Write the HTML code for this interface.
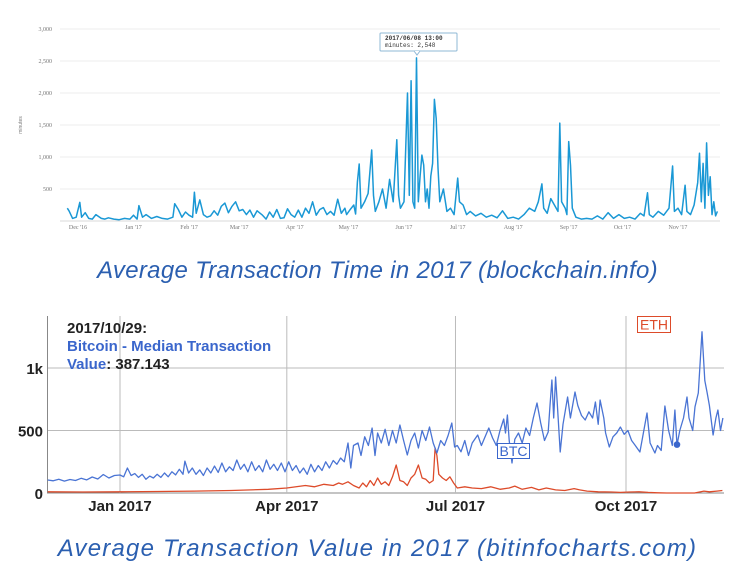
<!DOCTYPE html>
<html><head><meta charset="utf-8">
<style>
html,body{margin:0;padding:0;background:#fff;}
body{width:755px;height:578px;overflow:hidden;position:relative;font-family:"Liberation Sans",sans-serif;}
.cap{position:absolute;left:0;width:755px;text-align:center;font-style:italic;font-size:24px;color:#2b5fb0;letter-spacing:0.3px;}
</style></head>
<body>
<svg id="topchart" width="755" height="245" style="position:absolute;left:0;top:0"></svg>
<div class="cap" style="top:257px">Average Transaction Time in 2017 (blockchain.info)</div>
<svg id="botchart" width="755" height="225" style="position:absolute;left:0;top:300px"></svg>
<div class="cap" style="top:535px;letter-spacing:1.2px">Average Transaction Value in 2017 (bitinfocharts.com)</div>
<script>
// ---- Top chart data (days since 2016-12-01, minutes) ----
const timeDays = [-6,-5,-3,-1,1,2,4,6,8,10,13,15,17,20,23,26,29,31,33,34,36,38,41,44,47,50,53,54,56,58,60,62,64,65,66,68,70,72,74,76,78,80,82,84,86,88,90,92,94,96,98,100,103,105,107,109,111,113,115,117,119,121,123,125,127,129,131,133,135,137,139,141,143,145,147,149,150,152,154,155,156,157,158,160,162,164,165,166,168,170,172,174,176,178,179,180,182,184,185,186,187,188,189,190,191,192,193,194,195,196,197,198,199,200,201,202,204,206,208,210,212,213,215,217,219,222,225,228,231,234,237,240,243,246,249,252,255,257,259,260,262,264,266,268,269,270,272,273,274,275,276,278,281,284,287,290,293,296,299,302,305,308,311,314,316,318,319,321,324,327,330,332,333,335,337,339,340,342,344,346,347,348,349,350,351,352,353,354,355,356,357];
const timeMinutes = [200,160,40,60,290,60,130,40,30,100,40,30,50,30,20,40,30,90,30,240,60,100,40,70,40,30,60,270,180,60,140,90,60,450,120,330,100,60,80,160,90,230,280,130,230,300,160,180,100,170,60,160,90,30,140,60,180,40,50,190,100,60,170,60,200,120,300,90,180,210,100,150,90,340,120,200,100,180,250,110,610,890,200,300,430,1110,400,150,300,500,200,650,300,1270,400,200,300,2000,400,2190,300,200,2548,300,700,1030,875,300,500,200,700,900,1900,1600,830,300,500,150,200,100,670,300,250,100,150,80,120,60,90,50,160,40,60,30,100,200,150,300,580,200,120,350,250,150,1530,300,200,100,1240,870,200,60,30,40,30,80,30,130,40,100,40,60,30,120,80,440,100,60,150,90,200,860,150,200,100,560,150,100,250,600,1060,300,900,200,1220,400,690,100,300,80,150];
const timeYTicks = [500,1000,1500,2000,2500,3000];
const timeYLabels = ["500","1,000","1,500","2,000","2,500","3,000"];
const timeMonthDays = [0,31,62,90,121,151,182,212,243,274,304,335];
const timeMonthLabels = ["Dec '16","Jan '17","Feb '17","Mar '17","Apr '17","May '17","Jun '17","Jul '17","Aug '17","Sep '17","Oct '17","Nov '17"];

// ---- Bottom chart data (days since 2017-01-01, USD) ----
const btcDays = [-39,-36,-33,-30,-27,-24,-21,-18,-15,-12,-9,-6,-3,0,2,4,6,8,10,12,14,16,18,20,22,24,26,28,30,32,34,35,37,39,41,43,45,47,49,51,53,55,57,59,61,63,65,67,69,71,73,75,77,79,81,83,85,87,89,91,93,95,97,99,101,103,105,107,109,111,113,115,117,119,121,123,124.5,126,128.4,130,132,134,136,137.6,139,141,143,145,147,149,151,153,155,157,159,161,163,165,167,169,171,173,175,177,179,180.5,182,184,186,188,190,193,195,197,199,201,203,205,207,208,209,210,211.5,213,215,217,219,221,223,225,227,229,231,232,233,234,235,236,237.5,239,241.5,243,245.5,247,249,251,253,255,256.5,258,259,261,262,264,266,268,270,272,274,276,278,280.5,282,284.3,286,288.6,290,292,294,296,298,299.4,300.5,302,304,305.9,307,309,310.2,312,314,315.5,316.7,318,320,321.5,322.6,324,325.3];
const btcValues = [104,98,110,95,108,100,118,105,128,112,148,120,140,144,130,200,140,155,125,150,110,135,120,150,125,160,130,170,145,190,150,255,160,200,150,185,140,200,160,215,165,240,170,210,180,264,190,230,170,250,180,220,170,264,190,230,180,240,170,250,180,220,160,200,150,230,170,220,180,250,200,260,230,280,250,400,200,380,400,300,450,380,520,300,480,400,510,380,500,400,544,420,304,420,480,360,500,420,528,400,320,420,380,460,560,368,380,330,420,300,400,464,380,450,520,440,380,500,592,480,624,420,240,430,480,400,520,460,600,720,560,420,488,700,904,600,928,700,328,550,768,600,808,700,620,584,650,600,728,550,744,600,480,368,450,480,528,470,500,420,380,328,450,640,400,320,380,340,696,500,380,664,384,500,600,768,600,500,690,800,1290,900,808,700,464,600,664,500,600];
const ethDays = [-39,-20,0,20,40,60,80,90,100,105,110,115,118,120,123,126,129,131,133,135,137,139,141,143,145,147,149,151,153,155,157,159,161,163,165,167,169,170,171,172,174,176,178,180,182,186,190,195,200,205,210,213,217,222,226,230,235,240,245,248,252,258,265,270,275,280,285,290,295,300,305,310,315,318,322,325];
const ethValues = [10,8,10,12,15,20,30,40,60,50,70,60,80,70,90,60,40,80,50,100,60,120,70,90,60,130,224,100,90,60,120,150,224,120,110,80,100,360,300,150,120,100,130,80,40,50,40,35,50,30,40,55,30,45,25,40,25,20,35,25,15,10,8,5,8,10,5,2,0,0,0,0,15,10,15,20];
const valYTicks = [0,500,1000];
const valYLabels = ["0","500","1k"];
const valXDays = [0,90,181,273];
const valXLabels = ["Jan 2017","Apr 2017","Jul 2017","Oct 2017"];
const markerDay = 300.5;
const markerValue = 387.143;

const NS = "http://www.w3.org/2000/svg";
function mk(parent, tag, attrs){ const e=document.createElementNS(NS,tag); for(const k in attrs) e.setAttribute(k,attrs[k]); parent.appendChild(e); return e; }

// ===== Top chart =====
const topSvg = document.getElementById('topchart');
const tX = d => 78 + d * 1.791;
const tY = v => 221 - v * 0.064;
timeYTicks.forEach((v,i)=>{
  const g = mk(topSvg,'line',{x1:60,x2:720,y1:tY(v),y2:tY(v),stroke:'#ececec','stroke-width':1});
  
  
  const t = mk(topSvg,'text',{x:52,y:tY(v)+2,'text-anchor':'end','font-size':6,fill:'#777','font-family':'Liberation Serif, serif'});
  t.textContent = timeYLabels[i];
  
  
});
const base = mk(topSvg,'line',{x1:60,x2:720,y1:221,y2:221,stroke:'#d8d8d8','stroke-width':1});


const yt = mk(topSvg,'text',{x:22,y:125,'font-size':5,fill:'#777','text-anchor':'middle',transform:'rotate(-90 22 125)'});
yt.textContent='minutes';


timeMonthDays.forEach((d,i)=>{
  const t = mk(topSvg,'text',{x:tX(d),y:229,'text-anchor':'middle','font-size':6,fill:'#777','font-family':'Liberation Serif, serif'});
  t.textContent = timeMonthLabels[i];
  
  
});
const tp = timeDays.map((d,i)=>tX(d).toFixed(1)+','+tY(timeMinutes[i]).toFixed(1)).join(' ');
const tl = mk(topSvg,'polyline',{points:tp,fill:'none',stroke:'#1a98d5','stroke-width':1.5,'stroke-linejoin':'round'});


const tipG = mk(topSvg,'g',{});


mk(tipG,'rect',{x:380,y:33,width:77,height:18,fill:'#fff',stroke:'#8fb8d6','stroke-width':1,rx:1});
mk(tipG,'path',{d:'M414 51 L417 55 L420 51',fill:'#fff',stroke:'#8fb8d6','stroke-width':1});
const tt1 = mk(tipG,'text',{x:385,y:40,'font-size':6,fill:'#333','font-weight':'bold','font-family':'Liberation Mono, monospace'});
tt1.textContent='2017/06/08 13:00';
const tt2 = mk(tipG,'text',{x:385,y:47,'font-size':6,fill:'#333','font-family':'Liberation Mono, monospace'});
tt2.textContent='minutes: 2,548';

// ===== Bottom chart =====
const botSvg = document.getElementById('botchart');
const bX = d => 120 + d * 1.8535;
const bY = v => 193 - v * 0.125;
valYTicks.forEach((v,i)=>{
  const g = mk(botSvg,'line',{x1:47,x2:724,y1:bY(v),y2:bY(v),stroke:v===0?'#888':'#bbb','stroke-width':1});
  
  
  const t = mk(botSvg,'text',{x:43,y:bY(v)+6,'text-anchor':'end','font-size':15,'font-weight':'bold',fill:'#222'});
  t.textContent = valYLabels[i];
  
  
});
valXDays.forEach((d,i)=>{
  const g = mk(botSvg,'line',{x1:bX(d),x2:bX(d),y1:16,y2:193,stroke:'#bbb','stroke-width':1});
  
  
  const t = mk(botSvg,'text',{x:bX(d),y:211,'text-anchor':'middle','font-size':15,'font-weight':'bold',fill:'#222'});
  t.textContent = valXLabels[i];
  
  
});
const ax = mk(botSvg,'line',{x1:47.5,x2:47.5,y1:16,y2:193,stroke:'#888','stroke-width':1});


const ep = ethDays.map((d,i)=>bX(d).toFixed(1)+','+bY(ethValues[i]).toFixed(1)).join(' ');
const el = mk(botSvg,'polyline',{points:ep,fill:'none',stroke:'#dd4b2a','stroke-width':1.3,'stroke-linejoin':'round'});


const bp = btcDays.map((d,i)=>bX(d).toFixed(1)+','+bY(btcValues[i]).toFixed(1)).join(' ');
const bl = mk(botSvg,'polyline',{points:bp,fill:'none',stroke:'#4a74d4','stroke-width':1.3,'stroke-linejoin':'round'});


const dot = mk(botSvg,'circle',{cx:bX(markerDay),cy:bY(markerValue),r:3.3,fill:'#3a66cc'});


const btcG = mk(botSvg,'g',{});


mk(btcG,'rect',{x:497.5,y:143.5,width:32,height:15,fill:'#fff',stroke:'#3a66cc','stroke-width':1});
const bt = mk(btcG,'text',{x:513.5,y:156,'text-anchor':'middle','font-size':14,fill:'#3a66cc'}); bt.textContent='BTC';
const ethG = mk(botSvg,'g',{});


mk(ethG,'rect',{x:637.5,y:16.5,width:33,height:16,fill:'#fff',stroke:'#dd4b2a','stroke-width':1});
const et = mk(ethG,'text',{x:654,y:29.5,'text-anchor':'middle','font-size':14,fill:'#dd4b2a'}); et.textContent='ETH';
const tg = mk(botSvg,'g',{});


const l1 = mk(tg,'text',{x:67,y:33,'font-size':15,'font-weight':'bold',fill:'#222'}); l1.textContent='2017/10/29:';
const l2 = mk(tg,'text',{x:67,y:51,'font-size':15,'font-weight':'bold',fill:'#3a66cc'}); l2.textContent='Bitcoin - Median Transaction';
const l3 = mk(tg,'text',{x:67,y:69,'font-size':15,'font-weight':'bold',fill:'#3a66cc'});
l3.textContent='Value';
const l3b = mk(l3,'tspan',{fill:'#222'}); l3b.textContent=': 387.143';
</script>
</body></html>
